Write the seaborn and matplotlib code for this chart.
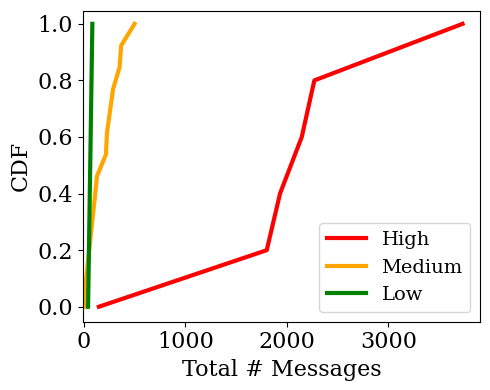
import pandas as pd
import matplotlib
matplotlib.use("Agg")
import matplotlib.pyplot as plt
import seaborn as sns

# values
high_msgs = [148, 1802, 1933, 2147, 2271, 3731]
high_cdf = [0.0, 0.2, 0.4, 0.6, 0.8, 1.0]

medium_msgs = [2, 15, 40, 62, 85, 108, 130, 218, 228, 258, 288, 352, 368, 500]
medium_cdf = [0.0, 0.077, 0.154, 0.231, 0.308, 0.385, 0.462, 0.538,
              0.615, 0.692, 0.769, 0.846, 0.923, 1.0]

low_msgs = [42, 48, 54, 60, 66, 72, 78, 84]
low_cdf = [0.0, 0.143, 0.286, 0.429, 0.571, 0.714, 0.857, 1.0]

groups = ["High", "Medium", "Low"]
colors = ["red", "orange", "green"]

df = pd.concat([
    pd.DataFrame({"msgs": high_msgs, "cdf": high_cdf, "group": "High"}),
    pd.DataFrame({"msgs": medium_msgs, "cdf": medium_cdf, "group": "Medium"}),
    pd.DataFrame({"msgs": low_msgs, "cdf": low_cdf, "group": "Low"}),
], ignore_index=True)

plt.rcParams["font.family"] = "DejaVu Serif"
plt.rcParams["font.size"] = 16

fig = plt.figure(figsize=(4.9, 3.9), dpi=100)
ax = fig.add_axes([0.169, 0.175, 0.811, 0.798])

sns.lineplot(data=df, x="msgs", y="cdf", hue="group", hue_order=groups,
             palette=colors, sort=False, estimator=None, linewidth=3, ax=ax)

ax.set_xlim(-10, 3905)
ax.set_ylim(-0.053, 1.047)
ax.set_xticks([0, 1000, 2000, 3000])
ax.set_xlabel("Total # Messages")
ax.set_ylabel("CDF")
ax.legend(loc="lower right", fontsize=14)

fig.savefig("out.png", dpi=100)
